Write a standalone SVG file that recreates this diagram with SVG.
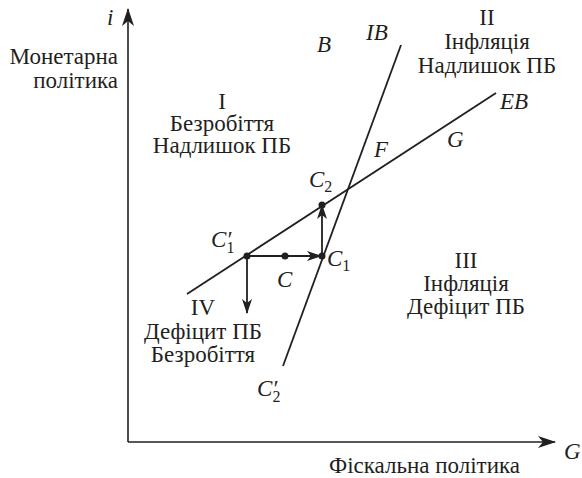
<svg xmlns="http://www.w3.org/2000/svg" width="582" height="478" viewBox="0 0 582 478">
<style>
text{font-family:"Liberation Serif","Times New Roman",serif;font-size:23px;fill:#231f20}
.it{font-style:italic}
.c{text-anchor:middle}
.r{text-anchor:end}
.sub{font-style:normal;font-size:16px}
line{stroke:#231f20;stroke-width:1.8;fill:none}
.ax{stroke-width:1.6}
</style>
<defs>
<marker id="ah" markerUnits="userSpaceOnUse" viewBox="0 0 18 12" refX="17" refY="6" markerWidth="18" markerHeight="12" orient="auto"><path d="M0,0 L18,6 L0,12 L5,6 z" fill="#231f20"/></marker>
<marker id="as" markerUnits="userSpaceOnUse" viewBox="0 0 15 10" refX="14" refY="5" markerWidth="15" markerHeight="10" orient="auto"><path d="M0,0 L15,5 L0,10 L4,5 z" fill="#231f20"/></marker>
</defs>
<g id="axes">
<line class="ax" x1="128" y1="442" x2="128" y2="9" marker-end="url(#ah)"/>
<line class="ax" x1="128" y1="442" x2="555" y2="442" marker-end="url(#ah)"/>
<text class="it" x="107" y="25">i</text>
<text class="r" x="118" y="64">Монетарна</text>
<text class="r" x="118" y="88">політика</text>
<text class="it" x="564" y="459">G</text>
<text x="329" y="473">Фіскальна політика</text>
</g>
<g id="curves">
<line id="IB" x1="401" y1="45" x2="283" y2="366"/>
<line id="EB" x1="496" y1="93" x2="187" y2="294"/>
<text class="it" x="366" y="40">IB</text>
<text class="it" x="500" y="109">EB</text>
</g>
<g id="connectors">
<line x1="247" y1="256" x2="321" y2="256" marker-end="url(#as)"/>
<line x1="322" y1="255" x2="322" y2="205" marker-end="url(#as)"/>
<line x1="247" y1="256" x2="247" y2="313" marker-end="url(#as)"/>
</g>
<g id="points">
<circle cx="247" cy="256" r="3.5" fill="#231f20"/>
<circle cx="285" cy="256" r="3.5" fill="#231f20"/>
<circle cx="322" cy="256" r="3.5" fill="#231f20"/>
<circle cx="322" cy="205" r="3.5" fill="#231f20"/>
<text class="it" x="211" y="247">C′<tspan class="sub" dx="-5" dy="6">1</tspan></text>
<text class="it" x="277" y="287">C</text>
<text class="it" x="327" y="266">C<tspan class="sub" dy="5">1</tspan></text>
<text class="it" x="309" y="187">C<tspan class="sub" dy="5">2</tspan></text>
<text class="it" x="257" y="396">C′<tspan class="sub" dx="-5" dy="6">2</tspan></text>
<text class="it" x="374" y="157">F</text>
<text class="it" x="447" y="147">G</text>
<text class="it" x="317" y="52">B</text>
</g>
<g id="q1">
<text class="c" x="222" y="109">I</text>
<text class="c" x="222" y="131">Безробіття</text>
<text class="c" x="222" y="153">Надлишок ПБ</text>
</g>
<g id="q2">
<text class="c" x="487" y="25">II</text>
<text class="c" x="487" y="49">Інфляція</text>
<text class="c" x="487" y="73">Надлишок ПБ</text>
</g>
<g id="q3">
<text class="c" x="466" y="268">III</text>
<text class="c" x="466" y="291">Інфляція</text>
<text class="c" x="466" y="314">Дефіцит ПБ</text>
</g>
<g id="q4">
<text class="c" x="203" y="315">IV</text>
<text class="c" x="203" y="339">Дефіцит ПБ</text>
<text class="c" x="203" y="362">Безробіття</text>
</g>
</svg>
